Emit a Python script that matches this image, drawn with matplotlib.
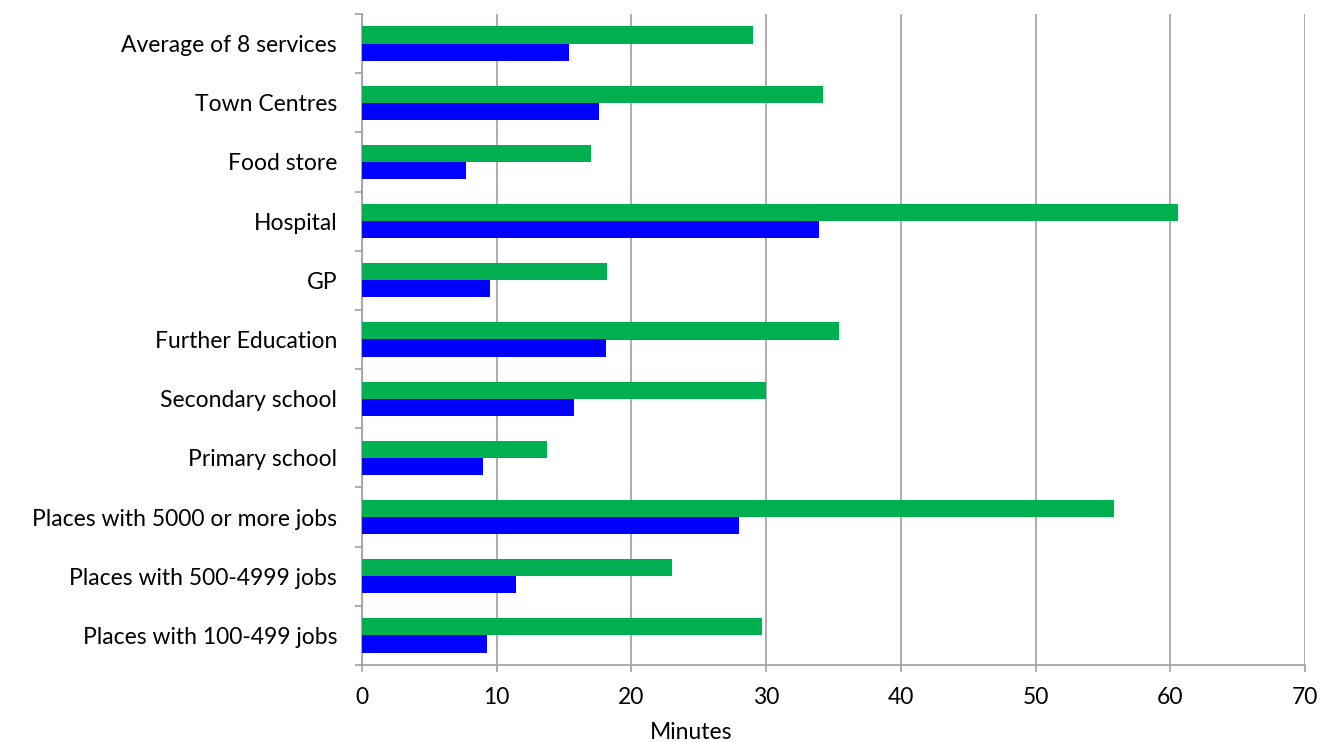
import matplotlib
matplotlib.use("Agg")
import matplotlib.pyplot as plt
import numpy as np

categories = ["Places with 100-499 jobs", "Places with 500-4999 jobs",
              "Places with 5000 or more jobs", "Primary school", "Secondary school",
              "Further Education", "GP", "Hospital", "Food store", "Town Centres",
              "Average of 8 services"]
green_vals = [29.7, 23.0, 55.8, 13.7, 30.0, 35.4, 18.2, 60.6, 17.0, 34.2, 29.0]
blue_vals = [9.3, 11.4, 28.0, 9.0, 15.7, 18.1, 9.5, 33.9, 7.7, 17.6, 15.4]
xticks = [0, 10, 20, 30, 40, 50, 60, 70]

plt.rcParams['font.family'] = ['Lato', 'DejaVu Sans']
fs = 16.5

fig = plt.figure(figsize=(13.21, 7.42), dpi=100)
ax = fig.add_axes([362/1321, 77/742, (1305-362)/1321, (665-14)/742])

y = np.arange(len(categories))
h = 0.29
ax.barh(y + h/2, green_vals, height=h, color="#00B050", zorder=3)
ax.barh(y - h/2, blue_vals, height=h, color="#0000FF", zorder=3)

ax.set_xlim(0, 70)
ax.set_ylim(-0.5, len(categories) - 0.5)
ax.set_xticks(xticks)
ax.set_yticks(y)
ax.set_yticklabels(categories)
ax.set_yticks(np.arange(-0.5, len(categories), 1.0), minor=True)

gc = "#A0A0A0"
ax.grid(axis="x", color=gc, linewidth=1.2, zorder=0)
for s in ["top", "right"]:
    ax.spines[s].set_visible(False)
for s in ["left", "bottom"]:
    ax.spines[s].set_color(gc)
    ax.spines[s].set_linewidth(1.2)

ax.tick_params(axis="y", which="major", length=0, pad=18, labelsize=fs, colors="black")
ax.tick_params(axis="y", which="minor", length=5, width=1.2, color=gc, direction="out")
ax.tick_params(axis="x", which="major", length=5, width=1.2, color=gc, direction="out",
               pad=11, labelsize=fs, labelcolor="black")
ax.set_xlabel("Minutes", fontsize=fs, labelpad=3)
ax.xaxis.set_label_coords((691 - 362) / (1305 - 362), -0.087)

fig.savefig("out.png", dpi=100)
